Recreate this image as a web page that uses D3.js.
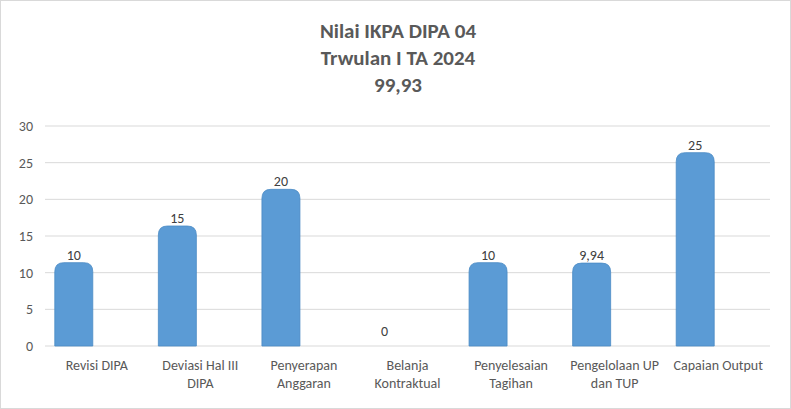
<!DOCTYPE html>
<html><head><meta charset="utf-8">
<script src="https://cdn.jsdelivr.net/npm/d3@7"></script>
<style>body{margin:0;background:#fff}</style>
</head><body>
<svg id="chart" width="791" height="409"></svg>
<script>
const categories = [["Revisi DIPA"], ["Deviasi Hal III", "DIPA"], ["Penyerapan", "Anggaran"], ["Belanja", "Kontraktual"], ["Penyelesaian", "Tagihan"], ["Pengelolaan UP", "dan TUP"], ["Capaian Output"]]
const values = [10, 15, 20, 0, 10, 9.94, 25]
const valueLabels = ["10", "15", "20", "0", "10", "9,94", "25"]
const titleLines = ["Nilai IKPA DIPA 04", "Trwulan I TA 2024", "99,93"]

const svg = d3.select("#chart")
const layout = {left: 45, right: 770, top: 126, bottom: 346}
const font = "Calibri, Carlito, 'Liberation Sans', sans-serif"

svg.append("rect").attr("x", 0.5).attr("y", 0.5).attr("width", 790).attr("height", 408)
   .attr("fill", "#fff").attr("stroke", "#d9d9d9")

svg.selectAll(".title").data(titleLines).join("text")
   .attr("x", 398).attr("y", (d, i) => 38 + i * 27)
   .attr("text-anchor", "middle").attr("font-family", font)
   .attr("font-size", 21).attr("font-weight", "bold").attr("fill", "#595959")
   .text(d => d)

const x = d3.scaleBand().domain(d3.range(categories.length)).range([layout.left, layout.right])
const y = d3.scaleLinear().domain([0, 30]).range([layout.bottom, layout.top])

svg.append("g").selectAll("line").data(y.ticks(6)).join("line")
   .attr("x1", layout.left).attr("x2", layout.right)
   .attr("y1", d => y(d)).attr("y2", d => y(d))
   .attr("stroke", "#d9d9d9")

svg.append("g").selectAll("text").data(y.ticks(6)).join("text")
   .attr("x", 33).attr("y", d => y(d) + 5).attr("text-anchor", "end")
   .attr("font-family", font).attr("font-size", 14).attr("fill", "#595959")
   .text(d => d)

const barW = 38, offset = -23, cap = 10
svg.append("g").selectAll("path").data(values).join("path")
   .attr("d", (d, i) => {
     if (d === 0) return ""
     const cx = x(i) + x.bandwidth() / 2 + offset
     const x0 = cx - barW / 2, x1 = cx + barW / 2
     const top = y(d) - cap, b = y(0)
     const r = 9
     return `M${x0},${b}V${top + r}Q${x0},${top} ${x0 + r},${top}H${x1 - r}Q${x1},${top} ${x1},${top + r}V${b}Z`
   })
   .attr("fill", "#5b9bd5").attr("stroke", "#4a8ac4").attr("stroke-width", 0.8)

svg.append("g").selectAll("text").data(values).join("text")
   .attr("x", (d, i) => x(i) + x.bandwidth() / 2 + offset)
   .attr("y", d => (d === 0 ? y(0) - 10 : y(d) - cap - 3))
   .attr("text-anchor", "middle").attr("font-family", font).attr("font-size", 14).attr("fill", "#404040")
   .text((d, i) => valueLabels[i])

const lab = svg.append("g").selectAll("text").data(categories).join("text")
   .attr("text-anchor", "middle").attr("font-family", font).attr("font-size", 14).attr("fill", "#595959")
   .attr("x", (d, i) => x(i) + x.bandwidth() / 2)
lab.selectAll("tspan").data(d => d).join("tspan")
   .attr("x", function() { return d3.select(this.parentNode).attr("x") })
   .attr("y", (d, j) => 370 + j * 18)
   .text(d => d)
</script>
</body></html>
